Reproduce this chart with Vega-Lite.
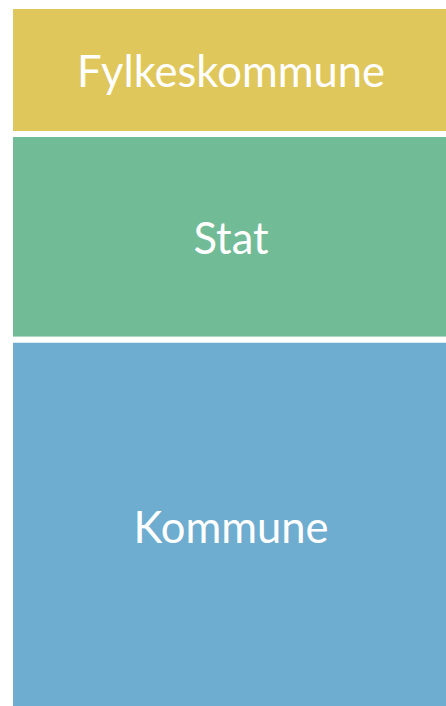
{
  "$schema": "https://vega.github.io/schema/vega-lite/v6.json",
  "autosize": "none",
  "width": 442,
  "height": 707,
  "padding": {"left": 10, "top": 6, "right": 0, "bottom": 0},
  "background": "white",
  "config": {"view": {"stroke": null}},
  "data": {
    "values": [
      {"sektor": "Fylkeskommune", "andel": 18.1, "rekkefolge": 1},
      {"sektor": "Stat", "andel": 29.1, "rekkefolge": 2},
      {"sektor": "Kommune", "andel": 52.8, "rekkefolge": 3}
    ]
  },
  "transform": [
    {"stack": "andel", "groupby": [], "sort": [{"field": "rekkefolge", "order": "ascending"}], "as": ["y0", "y1"]},
    {"calculate": "(datum.y0 + datum.y1) / 2", "as": "ymid"}
  ],
  "layer": [
    {
      "mark": {"type": "bar", "stroke": "white", "strokeWidth": 6, "width": {"band": 1}},
      "encoding": {
        "x": {"datum": "a", "type": "nominal", "axis": null, "scale": {"paddingInner": 0, "paddingOuter": 0}},
        "y": {"field": "y0", "type": "quantitative", "axis": null, "scale": {"domain": [0, 100], "reverse": true, "nice": false, "zero": true}},
        "y2": {"field": "y1"},
        "color": {
          "field": "sektor",
          "type": "nominal",
          "legend": null,
          "scale": {"domain": ["Fylkeskommune", "Stat", "Kommune"], "range": ["#DFC75B", "#72BB97", "#6EADCF"]}
        }
      }
    },
    {
      "mark": {"type": "text", "color": "white", "font": "Lato", "fontSize": 43.5, "align": "center", "baseline": "middle", "dy": 4},
      "encoding": {
        "x": {"datum": "a", "type": "nominal"},
        "y": {"field": "ymid", "type": "quantitative"},
        "text": {"field": "sektor"}
      }
    }
  ]
}
